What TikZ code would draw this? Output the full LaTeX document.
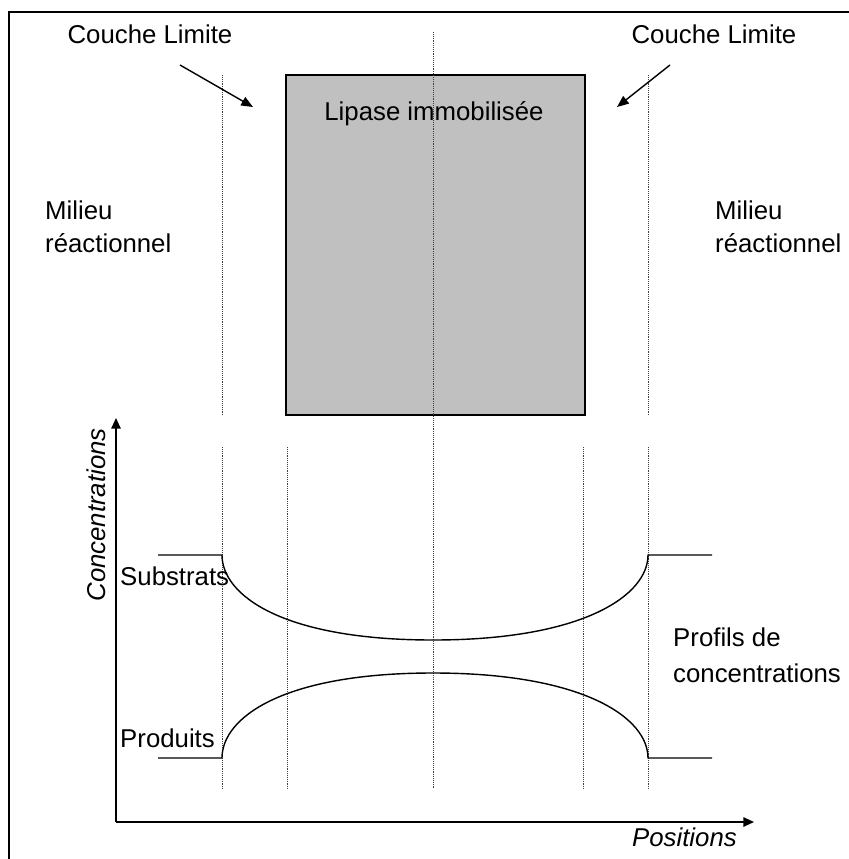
\documentclass[tikz,border=0pt]{standalone}
\usepackage{fontspec}
\setmainfont{Liberation Sans}
\usetikzlibrary{arrows.meta}
\begin{document}
\begin{tikzpicture}[x=0.03cm,y=-0.03cm,
  lbl/.style={font=\fontsize{22}{28}\selectfont, inner sep=0pt, align=left},
  dotline/.style={line width=0.7pt, dash pattern=on 0.8pt off 0.8pt, black!75},
  curveline/.style={line width=1.2pt, black},
  arr/.style={line width=1.2pt, -{Triangle[length=10pt,width=8pt]}},
  axarr/.style={line width=1.2pt, -{Triangle[length=9pt,width=8pt]}}
]
\useasboundingbox (0,0) rectangle (849,859);
% frame
\draw[line width=1.3pt] (9,859) -- (9,12) -- (849,12);
% immobilised lipase block
\draw[line width=1pt, fill={rgb,255:red,192;green,192;blue,192}] (286,75) rectangle (585,415);
\node[lbl, anchor=base] (lipase) at (434,120) {Lipase immobilisée};
% dotted guide lines
\draw[dotline] (433,32) -- (433,789);
\draw[dotline] (222,75) -- (222,415);
\draw[dotline] (222,447) -- (222,789);
\draw[dotline] (648,75) -- (648,415);
\draw[dotline] (648,447) -- (648,789);
\draw[dotline] (287,447) -- (287,789);
\draw[dotline] (583,447) -- (583,789);
% boundary layer labels
\node[lbl, anchor=base] (cl1) at (150,43) {Couche Limite};
\node[lbl, anchor=base] (cl2) at (714,43) {Couche Limite};
\coordinate (a1s) at (180,65);
\coordinate (a1e) at (253,107);
\coordinate (a2s) at (670,65);
\coordinate (a2e) at (617,107);
\draw[arr] (a1s) -- (a1e);
\draw[arr] (a2s) -- (a2e);
% medium labels
\node[lbl, anchor=base west] (mil1) at (45,252) {Milieu\\réactionnel};
\node[lbl, anchor=base west] (mil2) at (715,252) {Milieu\\réactionnel};
% axes
\coordinate (O) at (116,822);
\coordinate (ytip) at (116,418);
\coordinate (xtip) at (754,822);
\draw[axarr] (O) -- (ytip);
\draw[axarr] (O) -- (xtip);
\node[lbl, font=\fontsize{22}{28}\selectfont\itshape, rotate=90, anchor=base east] (conc) at (105,428) {Concentrations};
\node[lbl, font=\fontsize{22}{28}\selectfont\itshape, anchor=base east] (pos) at (737,846) {Positions};
% profiles
\draw[curveline] (158,555) -- (222,555) .. controls (222,595) and (282,640) .. (433,640)
  .. controls (584,640) and (648,595) .. (648,555) -- (712,555);
\draw[curveline] (158,758) -- (222,758) .. controls (222,718) and (282,673) .. (433,673)
  .. controls (584,673) and (648,718) .. (648,758) -- (712,758);
\node[lbl, anchor=base west] (sub) at (120,585) {Substrats};
\node[lbl, anchor=base west] (prod) at (120,747) {Produits};
\node[lbl, font=\fontsize{22}{30}\selectfont, anchor=base west] (prof) at (673,682) {Profils de\\concentrations};
\end{tikzpicture}
\end{document}
